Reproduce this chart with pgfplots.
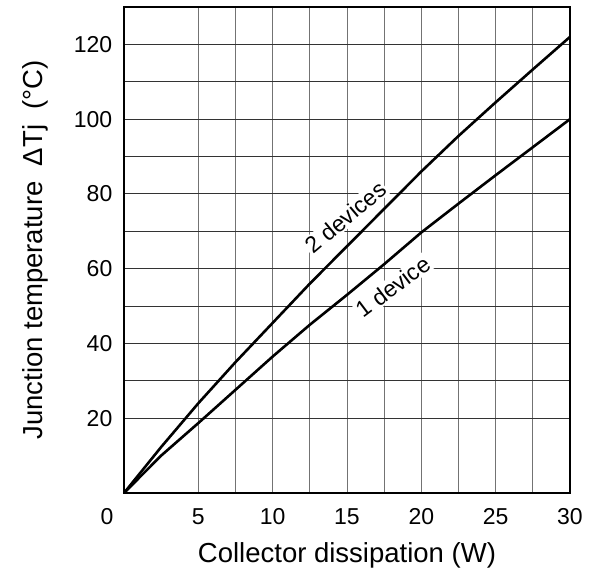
\documentclass[border=0pt]{standalone}
\usepackage{pgfplots}
\pgfplotsset{compat=1.18}
\usepackage{fontspec}
\setmainfont{Liberation Sans}

\begin{document}
\begin{tikzpicture}
\begin{axis}[
    scale only axis,
    width=446pt, height=486pt,
    xmin=0, xmax=30,
    ymin=0, ymax=130,
    xtick={5,10,...,30},
    ytick={20,40,...,120},
    extra x ticks={0},
    extra x tick style={grid=none, xticklabel style={xshift=-17pt}},
    minor x tick num=1,
    minor y tick num=1,
    major tick length=0pt, minor tick length=0pt,
    grid=both,
    major grid style={line width=0.9pt},
    minor grid style={line width=0.9pt},
    x grid style={black!55},
    y grid style={black!80},
    axis line style={black, line width=1.4pt},
    /pgf/number format/assume math mode=true,
    tick label style={font=\fontsize{23}{27}\selectfont, inner sep=0pt},
    xticklabel style={yshift=-15pt},
    yticklabel style={xshift=-11.5pt},
    label style={font=\fontsize{27.5}{31}\selectfont},
    xlabel={Collector dissipation (W)},
    xlabel style={at={(axis description cs:0.5,0)}, anchor=base, yshift=-70pt},
    ylabel={Junction temperature\ \ ΔTj\ \ (°C)},
    ylabel style={at={(axis description cs:0,0.5)}, anchor=base, yshift=81pt},
    clip=false,
]
\node[fill=white, inner sep=1.5pt, rotate=40, font=\fontsize{23}{27}\selectfont]
    at (axis cs:14.9,73.7) {2 devices};
\node[fill=white, inner sep=1.5pt, rotate=37, font=\fontsize{23}{27}\selectfont]
    at (axis cs:18.1,55.2) {1 device};

% 2 devices
\addplot[black, line width=2.6pt] coordinates {
    (0,0) (2.5,12.3) (5,24) (7.5,35) (10,45.5) (12.5,56) (15,66)
    (17.5,76) (20,86) (22.5,95.5) (25,104.5) (27.5,113.3) (30,122)
};
% 1 device
\addplot[black, line width=2.6pt] coordinates {
    (0,0) (2.5,10) (5,18.7) (7.5,27.6) (10,36.5) (12.5,45) (15,53)
    (17.5,61.2) (20,69.7) (22.5,77.4) (25,85) (27.5,92.5) (30,100)
};
\end{axis}
\path ([xshift=-124pt,yshift=-77.7pt]current axis.south west)
    rectangle ([xshift=19pt,yshift=7pt]current axis.north east);
\end{tikzpicture}
\end{document}
